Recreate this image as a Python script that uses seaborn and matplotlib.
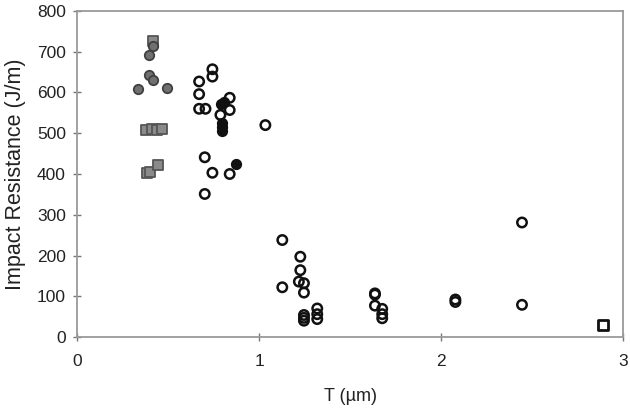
import matplotlib
matplotlib.use("Agg")
import matplotlib.pyplot as plt
import seaborn as sns
import pandas as pd

# Open circles
open_T = [0.671, 0.744, 0.744, 0.671, 0.671, 0.706, 0.839, 0.839, 0.788, 1.035,
          0.702, 0.744, 0.839, 0.702, 1.128, 1.128, 1.227, 1.227, 1.219, 1.247,
          1.247, 1.247, 1.247, 1.247, 1.32, 1.32, 1.32, 1.637, 1.637, 1.637,
          1.677, 1.677, 1.677, 2.079, 2.079, 2.445, 2.445]
open_R = [627, 657, 639, 596, 560, 560, 587, 557, 545, 520,
          441, 403, 400, 351, 238, 122, 197, 164, 136, 132,
          109, 54, 47, 40, 70, 56, 44, 107, 104, 77,
          69, 56, 46, 92, 86, 281, 79]

# Filled black circles
filled_T = [0.79, 0.81, 0.797, 0.797, 0.797, 0.876]
filled_R = [572, 576, 526, 515, 505, 424]

# Gray circles
gray_T = [0.336, 0.492, 0.397, 0.397, 0.415, 0.42]
gray_R = [608, 610, 692, 643, 631, 715]

# Gray squares
gsq_T = [0.42, 0.38, 0.41, 0.44, 0.465, 0.386, 0.40, 0.446]
gsq_R = [727, 507, 510, 508, 510, 402, 405, 422]

# Open square
osq_T = [2.891]
osq_R = [29]

x_ticks = [0, 1, 2, 3]
y_ticks = [0, 100, 200, 300, 400, 500, 600, 700, 800]

sns.set_style("white")
plt.rcParams['font.family'] = ['Liberation Sans', 'DejaVu Sans']

fig = plt.figure(figsize=(6.3, 4.09), dpi=100)
ax = fig.add_axes([77/630, 1-337/409, (623-77)/630, (337-11)/409])

ms = 46
sns.scatterplot(x=gsq_T, y=gsq_R, marker='s', s=ms, color='#8a8a8a',
                edgecolor='#555555', linewidth=1.3, ax=ax, zorder=3)
sns.scatterplot(x=gray_T, y=gray_R, marker='o', s=ms, color='#707070',
                edgecolor='#404040', linewidth=1.3, ax=ax, zorder=3)
sns.scatterplot(x=open_T, y=open_R, marker='o', s=ms, facecolor='none',
                edgecolor='#111111', linewidth=1.8, ax=ax, zorder=3)
sns.scatterplot(x=filled_T, y=filled_R, marker='o', s=ms, color='#111111',
                edgecolor='#111111', linewidth=1.3, ax=ax, zorder=4)
sns.scatterplot(x=osq_T, y=osq_R, marker='s', s=ms, facecolor='none',
                edgecolor='#111111', linewidth=2.0, ax=ax, zorder=3)

ax.set_xlim(0, 3)
ax.set_ylim(0, 800)
ax.set_xticks(x_ticks)
ax.set_yticks(y_ticks)
ax.set_xticklabels([str(v) for v in x_ticks])
ax.set_yticklabels([str(v) for v in y_ticks])

for sp in ax.spines.values():
    sp.set_color('#9a9a9a')
    sp.set_linewidth(1.3)

ax.tick_params(axis='both', which='major', bottom=True, left=True,
               direction='inout', length=6, width=1,
               color='#777777', labelsize=12.5, labelcolor='#222222')
ax.tick_params(axis='x', pad=9)
ax.tick_params(axis='y', pad=5)

ax.set_xlabel('T (µm)', fontsize=13, color='#222222', labelpad=14)
ax.set_ylabel('Impact Resistance (J/m)', fontsize=15.5, color='#222222', labelpad=8)

fig.savefig('out.png', dpi=100)
